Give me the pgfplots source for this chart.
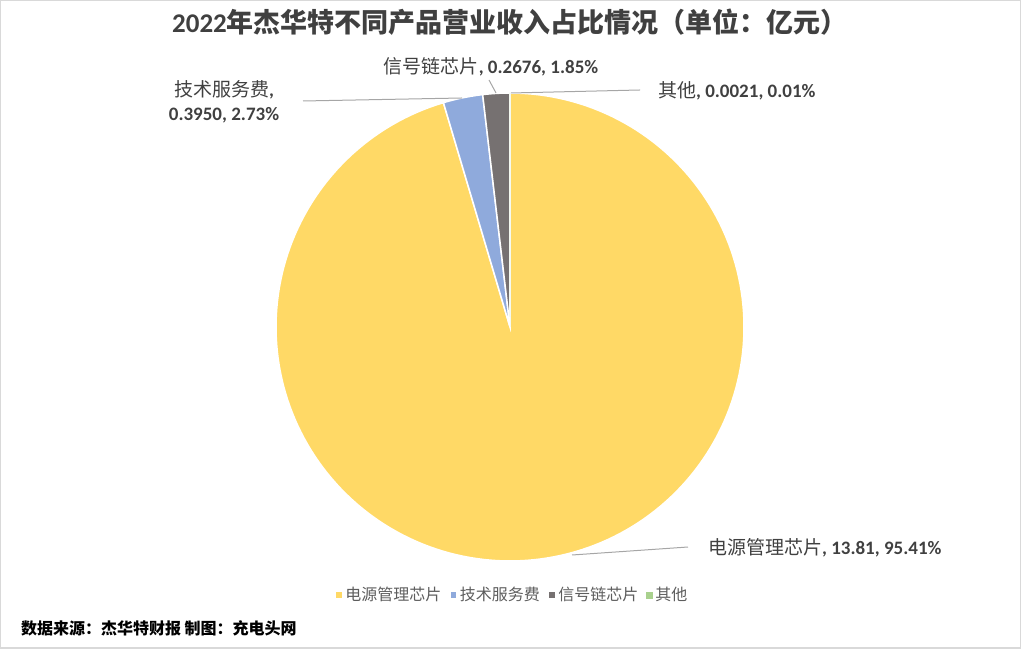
\documentclass[border=0pt]{standalone}
\usepackage{pgfplots}
\pgfplotsset{compat=1.18}
\usepackage{fontspec}
\setmainfont{Carlito}
\newfontfamily\cjk{Noto Sans CJK SC}

\definecolor{pieA}{HTML}{FFD966}
\definecolor{pieB}{HTML}{8FAADC}
\definecolor{pieC}{HTML}{767171}
\definecolor{pieD}{HTML}{A9D18E}
\definecolor{txt}{HTML}{404040}
\definecolor{leader}{HTML}{A6A6A6}
\definecolor{frame}{HTML}{D9D9D9}

% revenue by product, 2022 (100 million yuan)
\def\vA{13.81}
\def\vB{0.3950}
\def\vC{0.2676}
\def\vD{0.0021}

\begin{document}
\begin{tikzpicture}
\pgfmathsetmacro\tot{\vA+\vB+\vC+\vD}
\pgfmathsetmacro\sA{90}
\pgfmathsetmacro\sB{\sA-360*\vA/\tot}
\pgfmathsetmacro\sC{\sB-360*\vB/\tot}
\pgfmathsetmacro\sD{\sC-360*\vC/\tot}
\pgfmathsetmacro\sE{\sD-360*\vD/\tot}
\begin{axis}[
    width=510.5pt, height=324pt, scale only axis,
    xmin=0, xmax=1021, ymin=0, ymax=648,
    hide axis, clip=false,
    legend style={at={(axis cs:512,53)}, anchor=center, draw=none, fill=none,
        legend columns=-1, font=\cjk\fontsize{8}{10}\selectfont, text=txt!85,
        nodes={inner xsep=1pt},
        /tikz/every even column/.append style={column sep=3pt}},
    legend image code/.code={\fill[#1] (0pt,-1.75pt) rectangle (3.5pt,1.75pt);},
]
\addplot[fill=pieA, draw=white, line width=0.75pt, domain=\sB:\sA, samples=200, variable=\t]
    ({510+234*cos(\t)},{321+234*sin(\t)}) -- (axis cs:510,321) -- cycle;
\addlegendentry{电源管理芯片}
\addplot[fill=pieB, draw=white, line width=0.75pt, domain=\sC:\sB, samples=20, variable=\t]
    ({510+234*cos(\t)},{321+234*sin(\t)}) -- (axis cs:510,321) -- cycle;
\addlegendentry{技术服务费}
\addplot[fill=pieC, draw=white, line width=0.75pt, domain=\sD:\sC, samples=20, variable=\t]
    ({510+234*cos(\t)},{321+234*sin(\t)}) -- (axis cs:510,321) -- cycle;
\addlegendentry{信号链芯片}
\addplot[fill=pieD, draw=none, domain=\sE:\sD, samples=2, variable=\t]
    ({510+234*cos(\t)},{321+234*sin(\t)}) -- (axis cs:510,321) -- cycle;
\addlegendentry{其他}

% leader lines
\addplot[forget plot, no markers, leader, line width=0.5pt] coordinates {(572,93) (688,101)};
\addplot[forget plot, no markers, leader, line width=0.5pt] coordinates {(303,547) (462,550)};
\addplot[forget plot, no markers, leader, line width=0.5pt] coordinates {(489,568) (496,555)};
\addplot[forget plot, no markers, leader, line width=0.5pt] coordinates {(511,555) (640,558)};

\node[text=txt] at (axis cs:510,626)
    {\fontsize{13.5}{15}\selectfont\bfseries 2022{\cjk 年杰华特不同产品营业收入占比情况（单位：亿元）}};
\node[text=txt, font=\fontsize{9.5}{12}\selectfont] at (axis cs:491,581)
    {{\cjk 信号链芯片}\textbf{, 0.2676, 1.85\%}};
\node[text=txt, font=\fontsize{9.5}{12}\selectfont, align=center] at (axis cs:224,546)
    {{\cjk 技术服务费}\textbf{,}\\ \textbf{0.3950, 2.73\%}};
\node[text=txt, font=\fontsize{9.5}{12}\selectfont, anchor=west] at (axis cs:651,557)
    {{\cjk 其他}\textbf{, 0.0021, 0.01\%}};
\node[text=txt, font=\fontsize{9.5}{12}\selectfont, anchor=west] at (axis cs:701,100)
    {{\cjk 电源管理芯片}\textbf{, 13.81, 95.41\%}};
\node[anchor=west, text=black] at (axis cs:14,20)
    {\cjk\bfseries\fontsize{8}{10}\selectfont 数据来源：杰华特财报 制图：充电头网};
\draw[frame, line width=1pt] (rel axis cs:0,0) rectangle (rel axis cs:1,1);
\coordinate (bl) at (rel axis cs:0,0);
\coordinate (tr) at (rel axis cs:1,1);
\end{axis}
\pgfresetboundingbox
\useasboundingbox (bl) rectangle (tr);
\end{tikzpicture}
\end{document}
